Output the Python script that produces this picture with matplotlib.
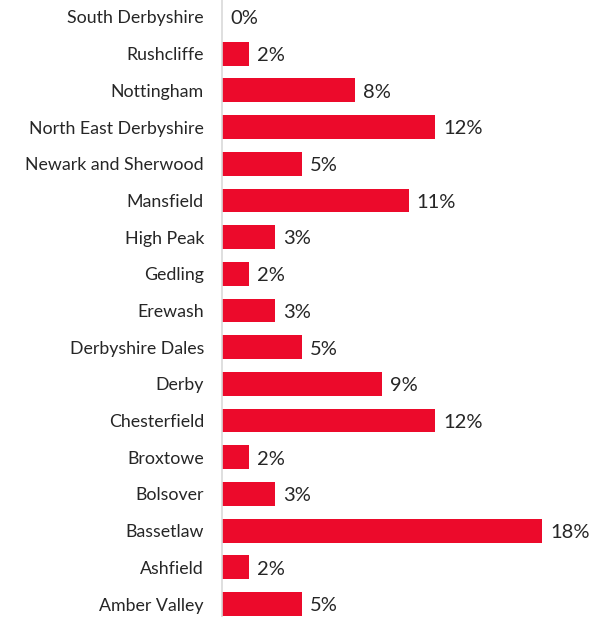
import math
import matplotlib
matplotlib.use("Agg")
import matplotlib.pyplot as plt

districts = ["Amber Valley", "Ashfield", "Bassetlaw", "Bolsover", "Broxtowe",
             "Chesterfield", "Derby", "Derbyshire Dales", "Erewash", "Gedling",
             "High Peak", "Mansfield", "Newark and Sherwood", "North East Derbyshire",
             "Nottingham", "Rushcliffe", "South Derbyshire"]
values = [4.5, 1.5, 18.0, 3.0, 1.5, 12.0, 9.0, 4.5, 3.0, 1.5,
          3.0, 10.5, 4.5, 12.0, 7.5, 1.5, 0.0]

plt.rcParams['font.family'] = ['Lato', 'DejaVu Sans']
W, H = 604, 617
fig = plt.figure(figsize=(W / 100, H / 100), dpi=100)
x0 = 222 / W
ppu = 320 / 18.0  # pixels per percent
xmax = 20
ax = fig.add_axes([x0, 0, (xmax * ppu) / W, 1])

ypos = list(range(len(districts)))
ax.barh(ypos, values, height=0.65, color='#EC0A2B', zorder=2)
ax.set_xlim(0, xmax)
step = (604 - 17) / 16
ax.set_ylim(-(617 - 604) / step, 16 + 17 / step)

for y, v in zip(ypos, values):
    lab = f"{math.floor(v + 0.5)}%"
    ax.text(v + 0.45, y - 0.05, lab, va='center', ha='left', fontsize=14.5, color='#262626')

ax.set_yticks(ypos)
ax.set_yticklabels(districts, fontsize=12.8, color='#262626')
ax.tick_params(axis='y', length=0, pad=13)
ax.set_xticks([])
for s in ['top', 'right', 'bottom']:
    ax.spines[s].set_visible(False)
ax.spines['left'].set_color('#D9D9D9')
ax.spines['left'].set_linewidth(1.2)
fig.savefig("out.png", dpi=100)
